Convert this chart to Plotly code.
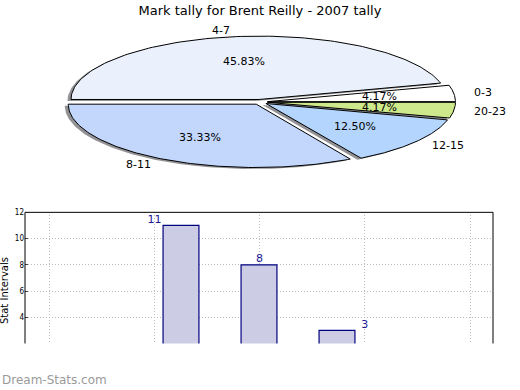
import numpy as np
import plotly.graph_objects as go

# ---- data ----
categories = ["0-3", "4-7", "8-11", "12-15", "16-19", "20-23"]
counts = [1, 11, 8, 3, 0, 1]

# pie slices (drawn counter-clockwise from the east)
pie_labels = ["0-3", "4-7", "8-11", "12-15", "20-23"]
pie_values = [1, 11, 8, 3, 1]
pie_colors = ["#ffffff", "#eaf1fd", "#c3d7fc", "#b4d6fe", "#cde98b"]

title = "Mark tally for Brent Reilly - 2007 tally"
y_title = "Stat Intervals"
y_ticks = [4, 6, 8, 10, 12]

W, H = 520, 390
fig = go.Figure()

# ---- pie geometry (pixel-unit axes) ----
cx, cy = 260.0, 99.0      # centre
ra, rb = 188.0, 64.0      # semi axes
explode = 0.04
total = float(sum(pie_values))

angles = []
theta0 = 0.0
for v in pie_values:
    th1 = theta0 + 360.0 * v / total
    angles.append((theta0, th1))
    theta0 = th1


def wedge(a0, a1, ox, oy):
    t = np.radians(np.linspace(a0, a1, 120))
    xs = np.concatenate([[ox], ox + ra * np.cos(t), [ox]])
    ys = np.concatenate([[oy], oy - rb * np.sin(t), [oy]])
    return xs, ys

centres = []
for (a0, a1) in angles:
    m = np.radians((a0 + a1) / 2)
    centres.append((cx + explode * ra * np.cos(m), cy - explode * rb * np.sin(m)))

# shadows
for (a0, a1), (ox, oy) in zip(angles, centres):
    xs, ys = wedge(a0, a1, ox - 3.5, oy + 1.5)
    fig.add_trace(go.Scatter(x=xs, y=ys, xaxis="x2", yaxis="y2", mode="lines",
                             fill="toself", fillcolor="rgba(110,110,115,0.75)",
                             line=dict(width=0), hoverinfo="skip", showlegend=False))
# wedges
for (a0, a1), (ox, oy), col in zip(angles, centres, pie_colors):
    xs, ys = wedge(a0, a1, ox, oy)
    fig.add_trace(go.Scatter(x=xs, y=ys, xaxis="x2", yaxis="y2", mode="lines",
                             fill="toself", fillcolor=col,
                             line=dict(width=1, color="#000000"), hoverinfo="skip",
                             showlegend=False))

# labels and percentages
for (a0, a1), (ox, oy), lab, v in zip(angles, centres, pie_labels, pie_values):
    m = np.radians((a0 + a1) / 2)
    lx = ox + 1.1 * ra * np.cos(m)
    ly = oy - 1.1 * rb * np.sin(m)
    fig.add_annotation(x=lx, y=ly, xref="x2", yref="y2", text=lab, showarrow=False,
                       xanchor="left" if np.cos(m) >= 0 else "right", yanchor="middle",
                       font=dict(family="DejaVu Sans", size=11, color="#000"))
    px_ = ox + 0.6 * ra * np.cos(m)
    py_ = oy - 0.6 * rb * np.sin(m)
    fig.add_annotation(x=px_, y=py_, xref="x2", yref="y2", text="%.2f%%" % (100 * v / total),
                       showarrow=False, xanchor="center", yanchor="middle",
                       font=dict(family="DejaVu Sans", size=11, color="#000"))

# ---- bar chart ----
xs_bar = list(range(len(categories)))
fig.add_trace(go.Bar(x=xs_bar, y=counts, width=0.46, marker=dict(color="#cccce5",
                     line=dict(color="#000080", width=1.2)), hoverinfo="skip",
                     showlegend=False))
grid_x = [-0.69 + 1.349 * k for k in range(5)]
lab_x = [grid_x[i] for i in range(5)]
lab_y = [counts[i] for i in range(5)]
lab_t = [str(counts[i]) if counts[i] else "" for i in range(5)]
fig.add_trace(go.Scatter(x=lab_x, y=lab_y, mode="text", text=lab_t,
                         textposition="top center", cliponaxis=True,
                         textfont=dict(family="DejaVu Sans", size=11, color="#1a1a99"),
                         hoverinfo="skip", showlegend=False))

top_px, bot_px = 210.5, 343.0
fig.update_layout(
    width=W, height=H, margin=dict(l=0, r=0, t=0, b=0),
    paper_bgcolor="white", plot_bgcolor="white",
    title=dict(text=title, x=0.5, xanchor="center", y=1 - 10 / H, yanchor="middle",
               font=dict(family="DejaVu Sans", size=13, color="#000")),
    xaxis=dict(domain=[25 / W, 493 / W], range=[-1, 5], tickvals=grid_x,
               showticklabels=False, showgrid=True, gridcolor="#bdbdbd", griddash="1px,2px",
               gridwidth=1, zeroline=False, showline=False, ticks=""),
    yaxis=dict(domain=[1 - bot_px / H, 1 - top_px / H], range=[2, 12], tickvals=y_ticks,
               showgrid=True, gridcolor="#bdbdbd", griddash="1px,2px", gridwidth=1,
               zeroline=False, showline=False, ticks="inside", ticklen=3,
               tickfont=dict(family="DejaVu Sans Condensed, DejaVu Sans", size=8, color="#000")),
    xaxis2=dict(domain=[0, 1], range=[0, W], visible=False, fixedrange=True),
    yaxis2=dict(domain=[1 - 180 / H, 1], range=[180, 0], visible=False, fixedrange=True),
    shapes=[
        dict(type="line", xref="paper", yref="paper", x0=25 / W, x1=25 / W,
             y0=1 - bot_px / H, y1=1 - top_px / H, line=dict(color="#000", width=1)),
        dict(type="line", xref="paper", yref="paper", x0=493 / W, x1=493 / W,
             y0=1 - bot_px / H, y1=1 - top_px / H, line=dict(color="#000", width=1)),
        dict(type="line", xref="paper", yref="paper", x0=25 / W, x1=493 / W,
             y0=1 - top_px / H, y1=1 - top_px / H, line=dict(color="#000", width=1)),
    ],
)
fig.add_annotation(text=y_title, xref="paper", yref="paper", x=4 / W, y=1 - 290 / H,
                   textangle=-90, showarrow=False, xanchor="center", yanchor="middle",
                   font=dict(family="DejaVu Sans", size=10, color="#000"))
fig.add_annotation(text="Dream-Stats.com", xref="paper", yref="paper", x=0, y=1 - 380 / H,
                   showarrow=False, xanchor="left", yanchor="middle",
                   font=dict(family="DejaVu Sans", size=12, color="#9a9a9a"))

fig.write_html("out.html", config={"displayModeBar": False},
               post_script="document.body.style.margin='0';document.body.style.overflow='hidden';")
